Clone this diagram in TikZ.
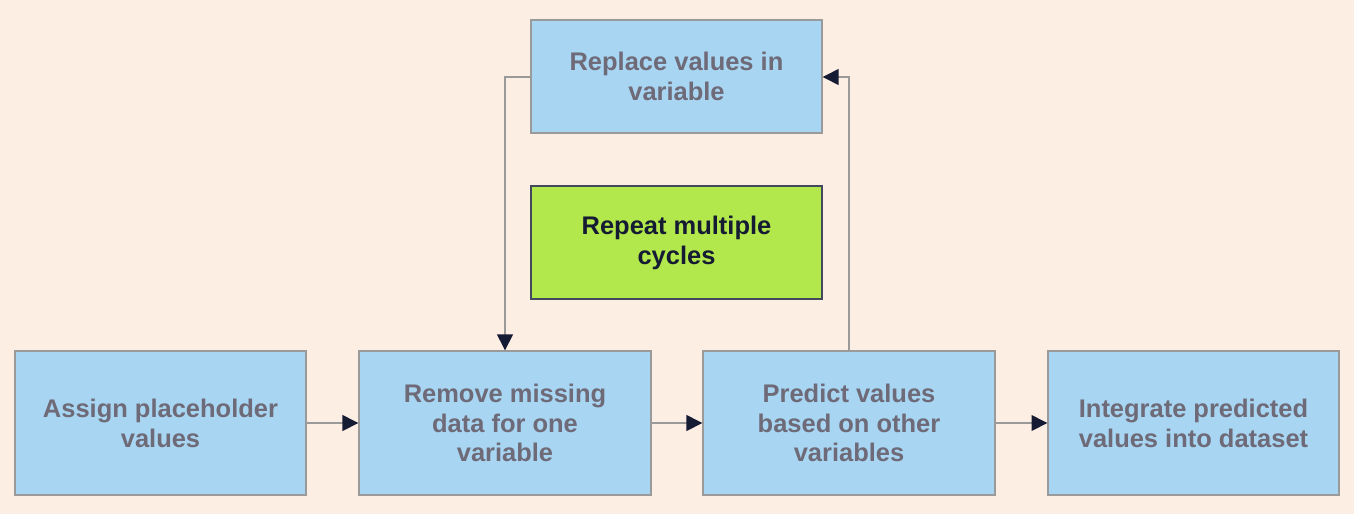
\documentclass[tikz,border=0pt]{standalone}
\usepackage{fontspec}
\setmainfont{Liberation Sans}
\usetikzlibrary{arrows.meta}
\definecolor{bgc}{HTML}{FDEEE3}
\definecolor{boxc}{HTML}{A7D5F2}
\definecolor{edgec}{HTML}{9A9A9A}
\definecolor{txtc}{HTML}{6E6A78}
\definecolor{greenc}{HTML}{B2E84B}
\definecolor{navyc}{HTML}{141B33}
\begin{document}
\begin{tikzpicture}[x=0.02cm,y=-0.02cm,
  box/.style={draw=edgec,line width=0.8pt,fill=boxc,minimum width=291*0.02cm,minimum height=144*0.02cm,
    align=center,font=\fontsize{14.5}{17}\selectfont\bfseries,text=txtc,inner sep=0pt},
  topbox/.style={box,minimum height=113*0.02cm},
  greenbox/.style={topbox,fill=greenc,draw=navyc!80,text=navyc},
  conn/.style={draw=edgec,line width=0.8pt,-{Triangle[length=9pt,width=9pt,color=navyc]}}]
\fill[bgc] (0,0) rectangle (1354,514);
\useasboundingbox (0,0) rectangle (1354,514);
\node[box] (a) at (160.5,423) {Assign placeholder\\values};
\node[box,minimum width=292*0.02cm] (b) at (505,423) {Remove missing\\data for one\\variable};
\node[box,minimum width=292*0.02cm] (c) at (849,423) {Predict values\\based on other\\variables};
\node[box] (d) at (1193.5,423) {Integrate predicted\\values into dataset};
\node[topbox] (r) at (676.5,76.5) {Replace values in\\variable};
\node[greenbox] (g) at (676.5,242.5) {Repeat multiple\\cycles};
\draw[conn] (a) -- (b);
\draw[conn] (b) -- (c);
\draw[conn] (c) -- (d);
\draw[conn] (r.west |- 0,77) -- (505,77) -- (b.north -| 505,0);
\draw[conn] (c.north -| 849,0) -- (849,77) -- (r.east |- 0,77);
\end{tikzpicture}
\end{document}
